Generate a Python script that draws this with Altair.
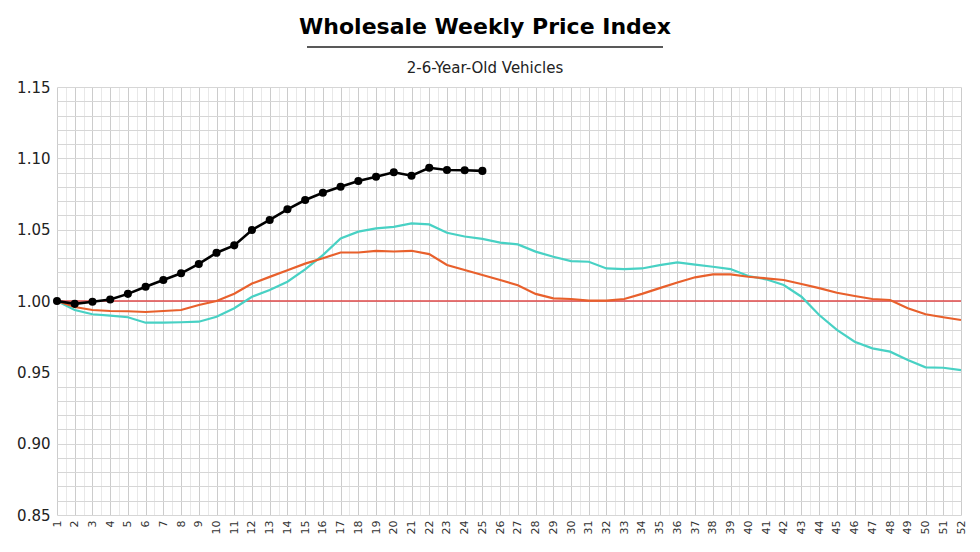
import altair as alt
import pandas as pd

weeks = list(range(1, 53))

current = [1.000, 0.998, 0.9995, 1.001, 1.005, 1.010, 1.0147, 1.0194, 1.026, 1.0338,
           1.039, 1.0498, 1.0568, 1.0643, 1.0708, 1.0759, 1.0801, 1.0841, 1.0871, 1.0902,
           1.0878, 1.0934, 1.0918, 1.0916, 1.0912]

orange = [1.000, 0.9958, 0.9937, 0.993, 0.9928, 0.9923, 0.993, 0.9937, 0.9972, 1.000,
          1.0051, 1.0122, 1.0169, 1.0215, 1.0262, 1.030, 1.034, 1.034, 1.0352, 1.0347,
          1.0352, 1.0329, 1.0252, 1.0217, 1.0182, 1.0147, 1.011, 1.005, 1.0019, 1.0014,
          1.0002, 1.0002, 1.0014, 1.005, 1.009, 1.013, 1.0166, 1.0187, 1.0187, 1.017,
          1.0159, 1.0147, 1.0119, 1.009, 1.0058, 1.0035, 1.0014, 1.0007, 0.9949, 0.9907,
          0.9886, 0.9867]

teal = [1.000, 0.9937, 0.9907, 0.9897, 0.9886, 0.9848, 0.9848, 0.9851, 0.9855, 0.989,
        0.9949, 1.003, 1.0077, 1.0135, 1.0222, 1.0322, 1.0439, 1.0486, 1.0509, 1.052,
        1.0544, 1.0537, 1.0478, 1.0452, 1.0435, 1.0409, 1.0397, 1.0346, 1.031, 1.028,
        1.0275, 1.0228, 1.0224, 1.0228, 1.0252, 1.027, 1.0255, 1.024, 1.0224, 1.0175,
        1.0152, 1.0112, 1.003, 0.9902, 0.9797, 0.9715, 0.9668, 0.9645, 0.9586, 0.9535,
        0.9532, 0.9516]

baseline_value = 1.0

title_text = "Wholesale Weekly Price Index"
subtitle_text = "2-6-Year-Old Vehicles"

x_ticks = [w / 2 for w in range(2, 105)]  # 1.0 .. 52.0 by 0.5
y_ticks = [round(0.85 + i * 0.01, 2) for i in range(31)]

FONT = "DejaVu Sans"

df_cur = pd.DataFrame({"week": weeks[:len(current)], "index": current})
df_or = pd.DataFrame({"week": weeks, "index": orange})
df_te = pd.DataFrame({"week": weeks, "index": teal})
df_base = pd.DataFrame({"index": [baseline_value]})

x_scale = alt.Scale(domain=[1, 52], nice=False, zero=False)
y_scale = alt.Scale(domain=[0.85, 1.15], nice=False, zero=False)

x_axis = alt.Axis(
    values=x_ticks,
    tickCount=500,
    labelExpr="datum.value % 1 == 0 ? format(datum.value, 'd') : ''",
    labelAngle=270,
    labelFontSize=11,
    labelFont=FONT,
    labelColor="#333333",
    labelPadding=5,
    ticks=False,
    domain=False,
    title=None,
    grid=True,
    gridColor={"condition": {"test": "datum.value % 1 != 0", "value": "#e8e8e8"}, "value": "#cccccc"},
    gridWidth=1,
    labelOverlap=False,
    labelFlush=False,
    labelBound=False,
)

y_axis = alt.Axis(
    values=y_ticks,
    tickCount=500,
    labelExpr="abs(round(datum.value * 100)) % 5 == 0 ? format(datum.value, '.2f') : ''",
    labelFontSize=15,
    labelFont=FONT,
    labelColor="#222222",
    labelPadding=7,
    ticks=False,
    domain=False,
    title=None,
    grid=True,
    gridColor="#d6d6d6",
    gridWidth=1,
    labelOverlap=False,
    labelFlush=False,
)

grid_layer = alt.Chart(df_or).mark_line(opacity=0).encode(
    x=alt.X("week:Q", scale=x_scale, axis=x_axis),
    y=alt.Y("index:Q", scale=y_scale, axis=y_axis),
)

base_rule = alt.Chart(df_base).mark_rule(color="#e04848", strokeWidth=1.6).encode(
    y=alt.Y("index:Q", scale=y_scale)
)

teal_line = alt.Chart(df_te).mark_line(color="#48d1c4", strokeWidth=2.2).encode(
    x=alt.X("week:Q", scale=x_scale),
    y=alt.Y("index:Q", scale=y_scale),
)

orange_line = alt.Chart(df_or).mark_line(color="#e8602c", strokeWidth=2.2).encode(
    x=alt.X("week:Q", scale=x_scale),
    y=alt.Y("index:Q", scale=y_scale),
)

cur_line = alt.Chart(df_cur).mark_line(
    color="#000000", strokeWidth=2.6,
    point=alt.OverlayMarkDef(filled=True, color="#000000", size=65, opacity=1),
).encode(
    x=alt.X("week:Q", scale=x_scale),
    y=alt.Y("index:Q", scale=y_scale),
)

title_mark = alt.Chart(pd.DataFrame({"t": [title_text]})).mark_text(
    font=FONT, fontSize=22, fontWeight="bold", color="#000000",
    align="center", baseline="alphabetic",
).encode(x=alt.value(428), y=alt.value(-53), text="t:N")

underline = alt.Chart(pd.DataFrame({"t": [title_text]})).mark_rule(
    color="#222222", strokeWidth=1.5
).encode(x=alt.value(250), x2=alt.value(606), y=alt.value(-40))

subtitle_mark = alt.Chart(pd.DataFrame({"t": [subtitle_text]})).mark_text(
    font=FONT, fontSize=15, color="#222222",
    align="center", baseline="alphabetic",
).encode(x=alt.value(428), y=alt.value(-14), text="t:N")

chart = alt.layer(
    grid_layer, base_rule, teal_line, orange_line, cur_line,
    title_mark, underline, subtitle_mark,
).properties(
    width=904,
    height=428,
    padding={"left": 57, "top": 87, "right": 19, "bottom": 37},
    autosize=alt.AutoSizeParams(type="none"),
    background="#ffffff",
).configure_view(stroke=None)

chart.save("out.html", embed_options={"renderer": "svg", "actions": False})
